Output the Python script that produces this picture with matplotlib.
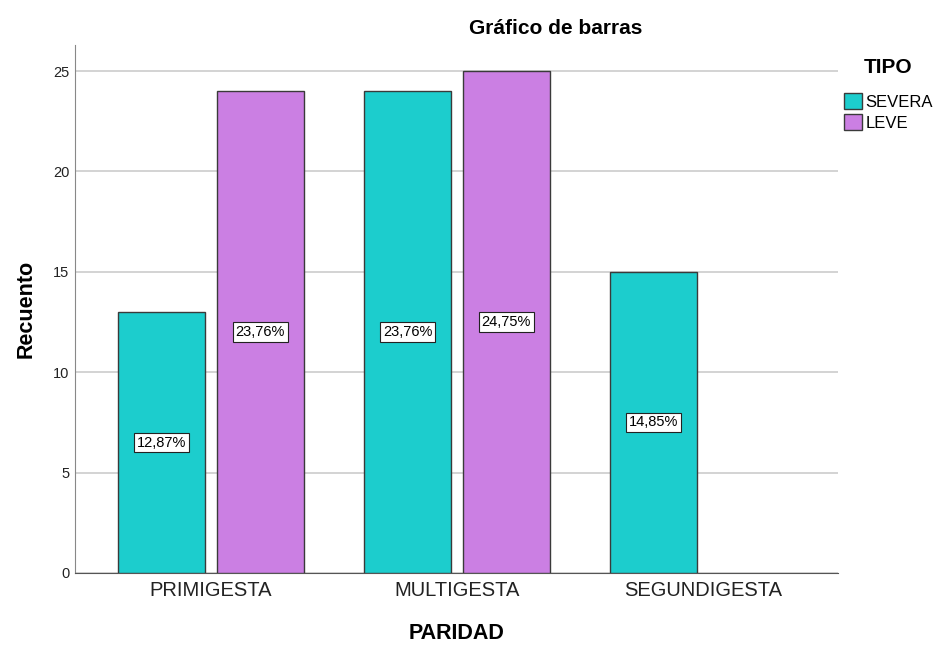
import numpy as np
import matplotlib.pyplot as plt
from matplotlib.patches import Patch

plt.rcParams['font.family'] = ['Liberation Sans', 'DejaVu Sans']

# data
categorias = ['PRIMIGESTA', 'MULTIGESTA', 'SEGUNDIGESTA']
severa = [13, 24, 15]
leve = [24, 25, 0]
severa_pct = ['12,87%', '23,76%', '14,85%']
leve_pct = ['23,76%', '24,75%', '']
series = ['SEVERA', 'LEVE']

c_sev = '#1ccdcd'
c_lev = '#cb7fe3'
edge = '#3a3a3a'

fig = plt.figure(figsize=(9.36, 6.46), dpi=100)
ax = fig.add_axes([75/936, 1 - 573/646, (838-75)/936, (573-45)/646])

x = np.arange(len(categorias))
w = 0.354
off = 0.2

ax.bar(x - off, severa, w, color=c_sev, edgecolor=edge, linewidth=1, zorder=3)
lev_x = [xi + off for xi, v in zip(x, leve) if v > 0]
lev_v = [v for v in leve if v > 0]
ax.bar(lev_x, lev_v, w, color=c_lev, edgecolor=edge, linewidth=1, zorder=3)

box = dict(boxstyle='square,pad=0.2', fc='white', ec='#222222', lw=0.8)
for xi, v, t in zip(x, severa, severa_pct):
    ax.text(xi - off, v / 2, t, ha='center', va='center', fontsize=10.5, bbox=box, zorder=4)
for xi, v, t in zip(x, leve, leve_pct):
    if v > 0:
        ax.text(xi + off, v / 2, t, ha='center', va='center', fontsize=10.5, bbox=box, zorder=4)

ax.set_xlim(-0.553, 2.549)
ax.set_ylim(0, 26.3)
ax.set_yticks([0, 5, 10, 15, 20, 25])
ax.set_xticks(x)
ax.set_xticklabels(categorias, fontsize=14.5, color='#222222')
ax.tick_params(axis='y', labelsize=10.5, length=0, pad=4, colors='#222222')
ax.tick_params(axis='x', length=0, pad=6)
ax.yaxis.grid(True, color='#cccccc', linewidth=1.2, zorder=0)
ax.set_axisbelow(True)
for s in ['top', 'right']:
    ax.spines[s].set_visible(False)
ax.spines['left'].set_color('#888888')
ax.spines['bottom'].set_color('#555555')

ax.set_ylabel('Recuento', fontsize=15.5, fontweight='bold', labelpad=12)
ax.set_xlabel('PARIDAD', fontsize=15.5, fontweight='bold', labelpad=16)

fig.text(556/936, 1 - 28/646, 'Gráfico de barras', ha='center', va='center',
         fontsize=15, fontweight='bold')

handles = [Patch(facecolor=c_sev, edgecolor=edge, label=series[0]),
           Patch(facecolor=c_lev, edgecolor=edge, label=series[1])]
leg = fig.legend(handles=handles, title='TIPO', loc='upper left',
                 bbox_to_anchor=(832/936, 1 - 46/646), frameon=False,
                 fontsize=12, handlelength=1.1, handleheight=1.1,
                 handletextpad=0.2, labelspacing=0.25, borderpad=0.2)
leg.get_title().set_fontweight('bold')
leg.get_title().set_fontsize(15)
leg._legend_box.sep = 12

fig.savefig('out.png', dpi=100)
